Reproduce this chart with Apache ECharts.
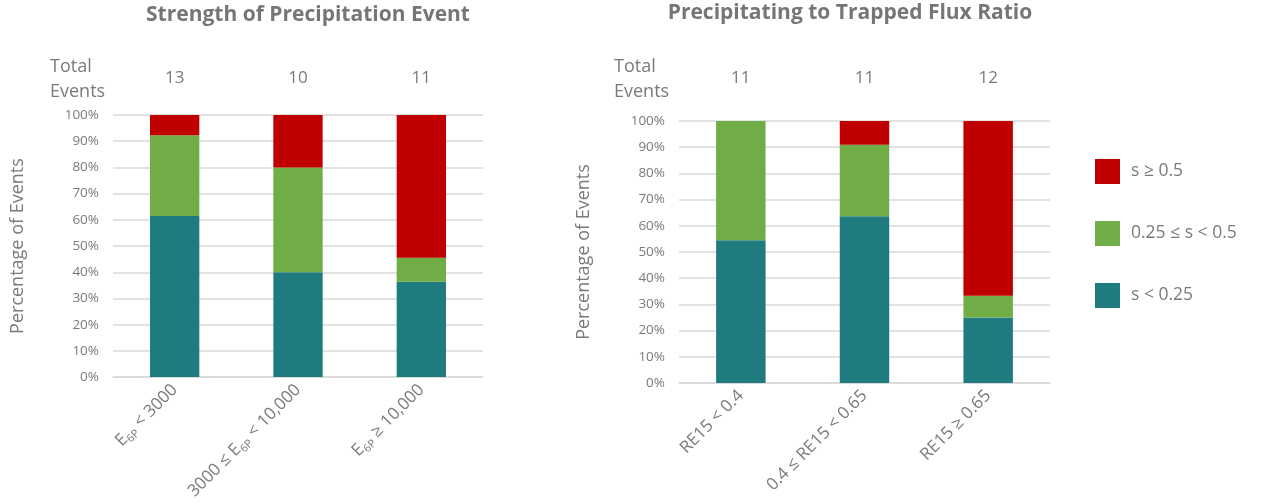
<!DOCTYPE html>
<html>
<head>
<meta charset="utf-8">
<script src="https://cdn.jsdelivr.net/npm/echarts@6/dist/echarts.min.js"></script>
<style>
  html, body { margin: 0; padding: 0; background: #fff; }
  #chart { width: 1269px; height: 504px; }
</style>
</head>
<body>
<div id="chart"></div>
<script>
// Left panel: strength of precipitation event (E6P bins)
const strengthCategories = ['E{sub|6P} < 3000', '3000 ≤ E{sub|6P} < 10,000', 'E{sub|6P} ≥ 10,000'];
const strengthTotals = [13, 10, 11];
const strengthLow = [61.5, 40.0, 36.4];   // s < 0.25
const strengthMid = [30.8, 40.0, 9.1];    // 0.25 ≤ s < 0.5
const strengthHigh = [7.7, 20.0, 54.5];   // s ≥ 0.5

// Right panel: precipitating to trapped flux ratio (RE15 bins)
const ratioCategories = ['RE15 < 0.4', '0.4 ≤ RE15 < 0.65', 'RE15 ≥ 0.65'];
const ratioTotals = [11, 11, 12];
const ratioLow = [54.5, 63.6, 25.0];
const ratioMid = [45.5, 27.3, 8.3];
const ratioHigh = [0, 9.1, 66.7];

const yTicks = [0, 10, 20, 30, 40, 50, 60, 70, 80, 90, 100];

const seriesNames = ['s < 0.25', '0.25 ≤ s < 0.5', 's ≥ 0.5'];
const colors = ['#1F7B80', '#70AD47', '#C00000'];

const FONT = '"Open Sans", "Noto Sans", sans-serif';
const TEXT = '#7a7a7a';

const chart = echarts.init(document.getElementById('chart'));

function xAxes(cats, totals, gridIndex, topMargin) {
  return [
    {
      type: 'category', gridIndex, data: cats, position: 'bottom',
      axisLine: { lineStyle: { color: '#d9d9d9', width: 1.5 } },
      axisTick: { show: false },
      axisLabel: {
        rotate: 45, interval: 0, margin: 10, color: TEXT, fontFamily: FONT, fontSize: 17,
        rich: { sub: { fontSize: 11, color: TEXT, fontFamily: FONT, padding: [11, 0, 0, 0] } }
      }
    },
    {
      type: 'category', gridIndex, data: totals, position: 'top',
      axisLine: { show: false }, axisTick: { show: false },
      axisLabel: { margin: topMargin, color: TEXT, fontFamily: FONT, fontSize: 17 }
    }
  ];
}

function yAxis(gridIndex) {
  return {
    type: 'value', gridIndex, min: 0, max: 100, interval: 10,
    name: 'Percentage of Events', nameLocation: 'middle', nameGap: 86, nameRotate: 90,
    nameTextStyle: { color: TEXT, fontFamily: FONT, fontSize: 18 },
    axisLine: { show: false }, axisTick: { show: false },
    axisLabel: { color: TEXT, fontFamily: FONT, fontSize: 13.5, margin: 14,
      formatter: v => yTicks.includes(v) ? v + '%' : '' },
    splitLine: { lineStyle: { color: '#d9d9d9', width: 1.5 } }
  };
}

function barSeries(values, idx, axisIdx) {
  return values.map((vals, i) => ({
    name: seriesNames[i], type: 'bar', stack: 'g' + idx,
    xAxisIndex: axisIdx, yAxisIndex: idx,
    data: vals, barWidth: '40%',
    itemStyle: { color: colors[i] }
  }));
}

chart.setOption({
  animation: false,
  textStyle: { fontFamily: FONT },
  title: [
    { text: 'Strength of Precipitation Event', left: 303, top: 0, textAlign: 'center',
      textStyle: { color: '#767676', fontSize: 21, fontWeight: 'bold', fontFamily: FONT } },
    { text: 'Precipitating to Trapped Flux Ratio', left: 845, top: -2, textAlign: 'center',
      textStyle: { color: '#767676', fontSize: 21, fontWeight: 'bold', fontFamily: FONT } },
    { text: 'Total\nEvents', left: 45, top: 49,
      textStyle: { color: TEXT, fontSize: 18, fontWeight: 'normal', fontFamily: FONT, lineHeight: 25 } },
    { text: 'Total\nEvents', left: 609, top: 49,
      textStyle: { color: TEXT, fontSize: 18, fontWeight: 'normal', fontFamily: FONT, lineHeight: 25 } }
  ],
  legend: {
    orient: 'vertical', left: 1090, top: 154, itemGap: 37,
    itemWidth: 25, itemHeight: 25, icon: 'rect',
    data: ['s ≥ 0.5', '0.25 ≤ s < 0.5', 's < 0.25'],
    textStyle: { color: TEXT, fontFamily: FONT, fontSize: 17.5, padding: [0, 0, 0, 6] }
  },
  grid: [
    { left: 113, width: 370, top: 115, height: 263 },
    { left: 679, width: 371, top: 121, height: 262 }
  ],
  xAxis: [
    ...xAxes(strengthCategories, strengthTotals, 0, 28),
    ...xAxes(ratioCategories, ratioTotals, 1, 34)
  ],
  yAxis: [yAxis(0), yAxis(1)],
  series: [
    ...barSeries([strengthLow, strengthMid, strengthHigh], 0, 0),
    ...barSeries([ratioLow, ratioMid, ratioHigh], 1, 2)
  ]
});
</script>
</body>
</html>
